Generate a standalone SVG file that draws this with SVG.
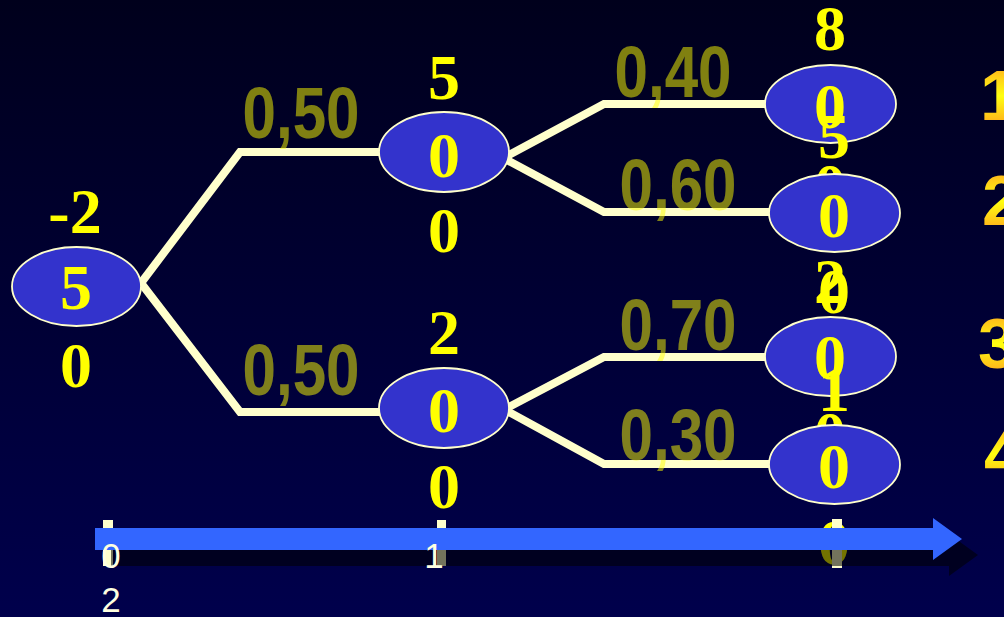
<svg xmlns="http://www.w3.org/2000/svg" width="1004" height="617" viewBox="0 0 1004 617">
<defs>
<linearGradient id="bg" x1="0" y1="0" x2="0" y2="1">
<stop offset="0" stop-color="#00001C"/>
<stop offset="1" stop-color="#00004C"/>
</linearGradient>
<linearGradient id="og" x1="0" y1="0" x2="0" y2="1">
<stop offset="0" stop-color="#FF9A20"/>
<stop offset="0.5" stop-color="#FFFF10"/>
<stop offset="1" stop-color="#FF9020"/>
</linearGradient>
<style>
.ln{fill:none;stroke:#FFFFCC;stroke-width:8;stroke-linejoin:miter}
.p{font-family:"Liberation Sans",Arial,sans-serif;font-weight:bold;font-size:72px;fill:#FFFF00;fill-opacity:.5}
.nd{fill:#3333CC;stroke:#FFFFCC;stroke-width:1.8}
.t{font-family:"Liberation Serif","Times New Roman",serif;font-weight:bold;font-size:64px;fill:#FFFF00;text-anchor:middle}
.tk{fill:#FFFFCC}
.ax{font-family:"Liberation Sans",Arial,sans-serif;font-size:35px;fill:#FFFFE0;text-anchor:middle}
.o{font-family:"Liberation Sans",Arial,sans-serif;font-weight:bold;font-size:70px;fill:url(#og)}
</style>
</defs>
<rect width="1004" height="617" fill="url(#bg)"/>
<g id="connectors">
<path class="ln" d="M141,283 L240,152 L380,152"/>
<path class="ln" d="M141,283 L240,412 L380,412"/>
<path class="ln" d="M507,156 L604,104 L767,104"/>
<path class="ln" d="M507,160 L604,212 L771,212"/>
<path class="ln" d="M507,408 L604,357 L767,357"/>
<path class="ln" d="M507,411 L604,464 L771,464"/>
<text class="p" x="242.5" y="138" textLength="117" lengthAdjust="spacingAndGlyphs">0,50</text>
<text class="p" x="242.5" y="395" textLength="117" lengthAdjust="spacingAndGlyphs">0,50</text>
<text class="p" x="614.5" y="97" textLength="117" lengthAdjust="spacingAndGlyphs">0,40</text>
<text class="p" x="619.5" y="210" textLength="117" lengthAdjust="spacingAndGlyphs">0,60</text>
<text class="p" x="619.5" y="350" textLength="117" lengthAdjust="spacingAndGlyphs">0,70</text>
<text class="p" x="619.5" y="460" textLength="117" lengthAdjust="spacingAndGlyphs">0,30</text>
</g>
<g id="node-root">
<ellipse class="nd" cx="76.5" cy="286.5" rx="64.5" ry="39.5"/>
<text class="t" x="75" y="233">-2</text>
<text class="t" x="76" y="309">5</text>
<text class="t" x="76" y="387">0</text>
</g>
<g id="node-a">
<ellipse class="nd" cx="444" cy="152" rx="65" ry="40"/>
<text class="t" x="444" y="99">5</text>
<text class="t" x="444" y="177">0</text>
<text class="t" x="444" y="252">0</text>
</g>
<g id="node-b">
<ellipse class="nd" cx="444" cy="408" rx="65" ry="40"/>
<text class="t" x="444" y="354">2</text>
<text class="t" x="444" y="432">0</text>
<text class="t" x="444" y="508">0</text>
</g>
<g id="node-1">
<ellipse class="nd" cx="830.5" cy="104" rx="65.5" ry="39"/>
<text class="t" x="830" y="50">8</text>
<text class="t" x="830" y="128">0</text>
<text class="t" x="830" y="208">0</text>
</g>
<g id="node-2">
<ellipse class="nd" cx="834.5" cy="213" rx="65.5" ry="39"/>
<text class="t" x="834" y="158">5</text>
<text class="t" x="834" y="237">0</text>
<text class="t" x="834" y="313">0</text>
</g>
<g id="node-3">
<ellipse class="nd" cx="830.5" cy="356.5" rx="65.5" ry="39.5"/>
<text class="t" x="830" y="303">2</text>
<text class="t" x="830" y="379">0</text>
<text class="t" x="830" y="456">0</text>
</g>
<g id="node-4">
<ellipse class="nd" cx="834.5" cy="464.5" rx="65.5" ry="39.5"/>
<text class="t" x="834" y="411">1</text>
<text class="t" x="834" y="488">0</text>
<text class="t" x="834" y="564">0</text>
</g>
<g id="outcomes">
<text class="o" x="980" y="120">1</text>
<text class="o" x="982" y="225">2</text>
<text class="o" x="978" y="368">3</text>
<text class="o" x="984" y="478">4</text>
</g>
<g id="axis">
<rect class="tk" x="103" y="520" width="10" height="46"/>
<rect class="tk" x="437" y="520" width="9" height="46"/>
<rect class="tk" x="832" y="519" width="10" height="49"/>
<polygon points="111,544 949,544 949,534 978,555 949,576 949,566 111,566" fill="#000000" fill-opacity="0.55"/>
<polygon points="95,528 933,528 933,518 962,539 933,560 933,550 95,550" fill="#3366FF"/>
<text class="ax" x="111" y="568">0</text>
<text class="ax" x="111" y="612">2</text>
<text class="ax" x="434" y="568">1</text>
</g>
</svg>
